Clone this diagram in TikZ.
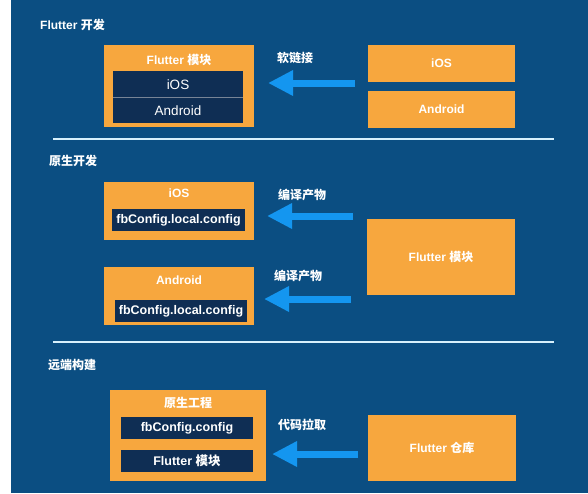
\documentclass[tikz,border=0pt]{standalone}
\usepackage{fontspec}
\setmainfont{Liberation Sans}
\newfontfamily\cjk{Noto Sans CJK SC}
\newcommand{\zh}[1]{{\cjk #1}}
\usetikzlibrary{arrows.meta}
\definecolor{bgblue}{RGB}{11,78,130}
\definecolor{orng}{RGB}{247,167,62}
\definecolor{navy}{RGB}{15,46,84}
\definecolor{arrblue}{RGB}{20,150,240}
\definecolor{sepline}{RGB}{215,240,252}
\definecolor{divgray}{RGB}{120,132,150}
\tikzset{
  obox/.style={fill=orng, draw=none, inner sep=0pt},
  nbox/.style={fill=navy, draw=none, inner sep=0pt},
  wtxt/.style={text=white, inner sep=0pt, font=\fontsize{12}{14}\selectfont\bfseries},
  rtxt/.style={text=white, inner sep=0pt, font=\fontsize{13.5}{16}\selectfont},
  btxt/.style={text=white, inner sep=0pt, font=\fontsize{12.5}{15}\selectfont\bfseries},
  htxt/.style={text=white, inner sep=0pt, anchor=west, font=\fontsize{12}{14}\selectfont\bfseries},
  fatarrow/.style={draw=arrblue, line width=7pt, -{Triangle[length=25pt,width=24pt]}},
  sep/.style={draw=sepline, line width=1.6pt}
}
\begin{document}
\begin{tikzpicture}[x=1pt,y=-1pt]
\useasboundingbox (0,0) rectangle (588,493);
\fill[white] (0,0) rectangle (588,493);
\fill[bgblue] (11,0) rectangle (588,493);

% ---- Section 1
\node[htxt] (h1) at (40,25) {Flutter \zh{开发}};
\node[obox, minimum width=150pt, minimum height=82pt] (fm1) at (179,86) {};
\node[wtxt] (fm1t) at (179,60) {Flutter \zh{模块}};
\node[nbox, minimum width=130pt, minimum height=52pt] (fm1n) at (178,97) {};
\draw[divgray, line width=0.6pt] (fm1n.west) -- (fm1n.east);
\node[rtxt] (fm1ios) at (178,84.5) {iOS};
\node[rtxt] (fm1and) at (178,110.5) {Android};

\node[obox, minimum width=147pt, minimum height=37pt] (ios1) at (441.5,63.5) {};
\node[wtxt] at (ios1) {iOS};
\node[obox, minimum width=147pt, minimum height=37pt] (and1) at (441.5,109.5) {};
\node[wtxt] at (and1) {Android};

\coordinate (a1s) at (355,83);
\coordinate (a1e) at (268,83);
\draw[fatarrow] (a1s) -- (a1e);
\node[wtxt] (l1) at (295,58) {\zh{软链接}};

\coordinate (s1a) at (53,139);
\coordinate (s1b) at (554,139);
\draw[sep] (s1a) -- (s1b);

% ---- Section 2
\node[htxt] (h2) at (49,161) {\zh{原生开发}};
\node[obox, minimum width=150pt, minimum height=58pt] (ios2) at (179,211) {};
\node[wtxt] (ios2t) at (179,193) {iOS};
\node[nbox, minimum width=133pt, minimum height=22pt] (ios2n) at (178.5,220) {};
\node[btxt] at (ios2n) {fbConfig.local.config};

\node[obox, minimum width=150pt, minimum height=58pt] (and2) at (179,296) {};
\node[wtxt] (and2t) at (179,280) {Android};
\node[nbox, minimum width=132pt, minimum height=22pt] (and2n) at (181,311) {};
\node[btxt] at (and2n) {fbConfig.local.config};

\node[obox, minimum width=148pt, minimum height=76pt] (fm2) at (441,257) {};
\node[wtxt] at (fm2) {Flutter \zh{模块}};

\coordinate (a2s) at (353,216);
\coordinate (a2e) at (267,216);
\draw[fatarrow] (a2s) -- (a2e);
\node[wtxt] (l2) at (302,195) {\zh{编译产物}};

\coordinate (a3s) at (351,299);
\coordinate (a3e) at (264,299);
\draw[fatarrow] (a3s) -- (a3e);
\node[wtxt] (l3) at (298,276) {\zh{编译产物}};

\coordinate (s2a) at (53,342);
\coordinate (s2b) at (554,342);
\draw[sep] (s2a) -- (s2b);

% ---- Section 3
\node[htxt] (h3) at (48,365) {\zh{远端构建}};
\node[obox, minimum width=156pt, minimum height=91pt] (nat) at (188,435.5) {};
\node[wtxt] (natt) at (188,403) {\zh{原生工程}};
\node[nbox, minimum width=132pt, minimum height=22pt] (natn1) at (187,428) {};
\node[btxt] at (natn1) {fbConfig.config};
\node[nbox, minimum width=132pt, minimum height=22pt] (natn2) at (187,461) {};
\node[btxt] at (natn2) {Flutter \zh{模块}};

\node[obox, minimum width=148pt, minimum height=66pt] (repo) at (442,448) {};
\node[wtxt] at (repo) {Flutter \zh{仓库}};

\coordinate (a4s) at (358,454);
\coordinate (a4e) at (272,454);
\draw[fatarrow] (a4s) -- (a4e);
\node[wtxt] (l4) at (302,425) {\zh{代码拉取}};
\end{tikzpicture}
\end{document}
